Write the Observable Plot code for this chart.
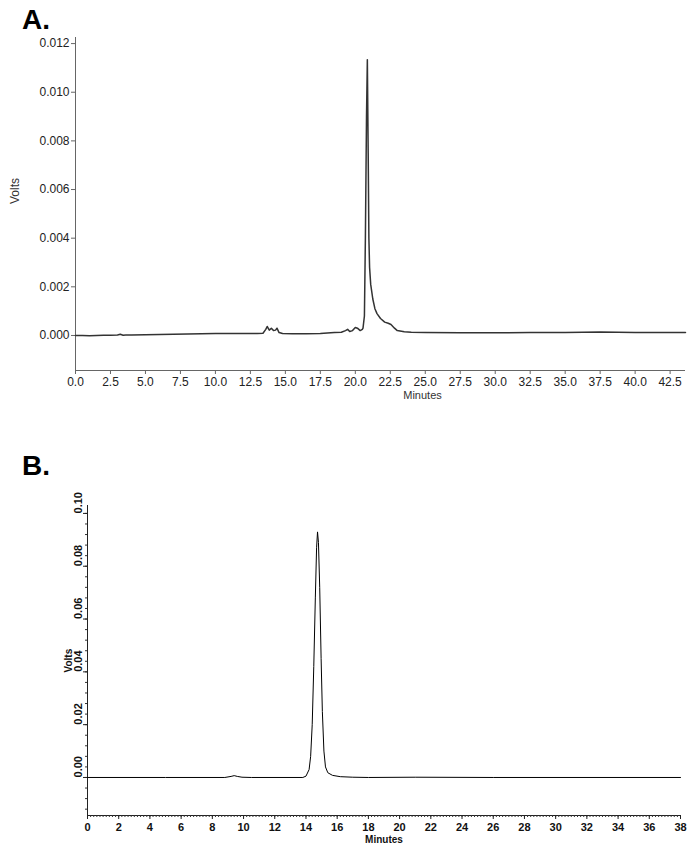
<!DOCTYPE html>
<html>
<head>
<meta charset="utf-8">
<script src="https://cdn.jsdelivr.net/npm/d3@7"></script>
<script src="https://cdn.jsdelivr.net/npm/@observablehq/plot@0.6"></script>
<style>
  html, body { margin: 0; padding: 0; background: #fff; }
  #wrap { position: relative; width: 698px; height: 846px; overflow: hidden; font-family: "Liberation Sans", Arial, sans-serif; }
  .panel { position: absolute; left: 0; }
  .tag { position: absolute; left: 22px; font-weight: bold; font-size: 28px; color: #000; line-height: 1; }
</style>
</head>
<body>
<div id="wrap">
  <div class="tag" style="top:6px">A.</div>
  <div class="tag" style="top:452px">B.</div>
  <div id="pa" class="panel" style="top:0px"></div>
  <div id="pb" class="panel" style="top:440px"></div>
</div>
<script>
// ---------- Panel A data ----------
const aTime = [0, 0.5, 1.0, 1.5, 2.0, 2.5, 3.0, 3.2, 3.4, 3.6, 4.0, 5.0, 6.0, 7.0, 8.0, 9.0, 10.0, 11.0, 12.0, 13.0, 13.4,
  13.6, 13.7, 13.85, 14.0, 14.15, 14.3, 14.4, 14.55, 14.8, 15.5, 16.5, 17.5, 18.0, 18.5, 19.0, 19.3, 19.45, 19.6, 19.8,
  20.0, 20.15, 20.35, 20.5, 20.55, 20.65, 20.72, 20.80, 20.86, 20.92, 20.97, 21.02, 21.1, 21.25, 21.4, 21.55, 21.8,
  22.1, 22.35, 22.55, 22.8, 23.0, 23.5, 24.0, 25.0, 27.5, 30.0, 32.5, 35.0, 37.5, 40.0, 42.5, 43.6];
const aVolts = [0.00000, 0.00000, -0.00001, 0.00000, 0.00001, 0.00001, 0.00002, 0.00005, 0.00001, 0.00002, 0.00002,
  0.00003, 0.00004, 0.00005, 0.00006, 0.00007, 0.00008, 0.00008, 0.00008, 0.00008, 0.00009,
  0.00025, 0.00037, 0.00022, 0.00030, 0.00020, 0.00022, 0.00030, 0.00012, 0.00008, 0.00007, 0.00007, 0.00008, 0.00010,
  0.00012, 0.00013, 0.00020, 0.00025, 0.00016, 0.00020,
  0.00033, 0.00030, 0.00020, 0.00025, 0.00030, 0.0008, 0.0040, 0.0090, 0.01134, 0.0075, 0.0040, 0.0028, 0.0021, 0.0015,
  0.0011, 0.0009, 0.0007, 0.00055, 0.0005, 0.00045, 0.0003, 0.0002, 0.00015, 0.00013, 0.00012, 0.00011, 0.00011,
  0.00012, 0.00012, 0.00014, 0.00012, 0.00012, 0.00012];
const aXTicks = [0, 2.5, 5, 7.5, 10, 12.5, 15, 17.5, 20, 22.5, 25, 27.5, 30, 32.5, 35, 37.5, 40, 42.5];
const aYTicks = [0, 0.002, 0.004, 0.006, 0.008, 0.010, 0.012];

// ---------- Panel B data ----------
const bTime = [0, 5, 8.8, 9.2, 9.4, 9.6, 9.9, 10.5, 13.8, 14.0, 14.2, 14.3, 14.4, 14.5, 14.6, 14.68, 14.74, 14.8,
  14.88, 14.97, 15.05, 15.15, 15.25, 15.4, 15.7, 16.2, 17, 18, 21, 26, 38];
const bVolts = [0, 0, 0, 0.0004, 0.0007, 0.0004, 0.0001, 0, 0, 0.0005, 0.003, 0.008, 0.020, 0.042, 0.068, 0.087, 0.093,
  0.089, 0.072, 0.045, 0.025, 0.010, 0.004, 0.0018, 0.0008, 0.0003, 0.0001, 0, 0.0001, 0, 0];
const bXTicks = [0, 2, 4, 6, 8, 10, 12, 14, 16, 18, 20, 22, 24, 26, 28, 30, 32, 34, 36, 38];
const bYTicks = [0, 0.02, 0.04, 0.06, 0.08, 0.10];

const aData = aTime.map((t, i) => ({t, v: aVolts[i]}));
const bData = bTime.map((t, i) => ({t, v: bVolts[i]}));

// ---------- Panel A ----------
const aYMin = -0.00144, aYMax = 0.01225;
const chartA = Plot.plot({
  width: 698, height: 410,
  marginLeft: 75, marginRight: 13, marginTop: 37, marginBottom: 40,
  style: {fontFamily: "Liberation Sans, Arial, sans-serif", fontSize: "12px", color: "#222", background: "transparent", overflow: "visible"},
  x: {domain: [0, 43.6]},
  y: {domain: [aYMin, aYMax]},
  marks: [
    Plot.ruleX([0], {stroke: "#666", strokeWidth: 1}),
    Plot.ruleY([aYMin], {stroke: "#666", strokeWidth: 1}),
    Plot.axisX({ticks: aXTicks, tickFormat: d3.format(".1f"), tickSize: 4, tickPadding: 3, stroke: "#666", label: null}),
    Plot.axisY({ticks: aYTicks, tickFormat: d3.format(".3f"), tickSize: 4, tickPadding: 2, stroke: "#666", label: null}),
    Plot.line(aData, {x: "t", y: "v", stroke: "#333", strokeWidth: 1.5}),
    Plot.text(["Volts"], {frameAnchor: "left", rotate: -90, dx: -60, fontSize: 12, fill: "#333"}),
    Plot.text(["Minutes"], {frameAnchor: "bottom", dx: 42, dy: 28, fontSize: 11, fill: "#333"})
  ]
});
document.getElementById("pa").appendChild(chartA);

// ---------- Panel B ----------
const bYMin = -0.0144, bYMax = 0.103;
const bold = {fontWeight: "bold", fontSize: 11, fill: "#111"};
const chartB = Plot.plot({
  width: 698, height: 406,
  marginLeft: 87, marginRight: 18, marginTop: 65, marginBottom: 31,
  style: {fontFamily: "Liberation Sans, Arial, sans-serif", fontSize: "11px", fontWeight: "bold", color: "#111", background: "transparent", overflow: "visible"},
  x: {domain: [0, 38]},
  y: {domain: [bYMin, bYMax]},
  marks: [
    Plot.ruleX([0], {stroke: "#222", strokeWidth: 1}),
    Plot.ruleY([bYMin], {stroke: "#222", strokeWidth: 1}),
    Plot.axisX({ticks: d3.range(0, 38.001, 0.2), tickFormat: () => "", tickSize: 2, stroke: "#333", label: null}),
    Plot.axisX({ticks: bXTicks, tickFormat: d3.format("d"), tickSize: 4, tickPadding: 4, stroke: "#222", label: null}),
    Plot.axisY({ticks: d3.range(-0.012, 0.1031, 0.004), tickFormat: () => "", tickSize: 2, stroke: "#333", label: null}),
    Plot.axisY({ticks: bYTicks, tickFormat: () => "", tickSize: 4, stroke: "#222", label: null}),
    Plot.text(bYTicks, {y: d => d, text: d3.format(".2f"), frameAnchor: "left", rotate: -90, dx: -9, ...bold}),
    Plot.line(bData, {x: "t", y: "v", stroke: "#000", strokeWidth: 1}),
    Plot.text(["Volts"], {frameAnchor: "left", rotate: -90, dx: -19, dy: 12, ...bold, fontSize: 10}),
    Plot.text(["Minutes"], {frameAnchor: "bottom", dy: 27, ...bold, fontSize: 10})
  ]
});
document.getElementById("pb").appendChild(chartB);
</script>
</body>
</html>
